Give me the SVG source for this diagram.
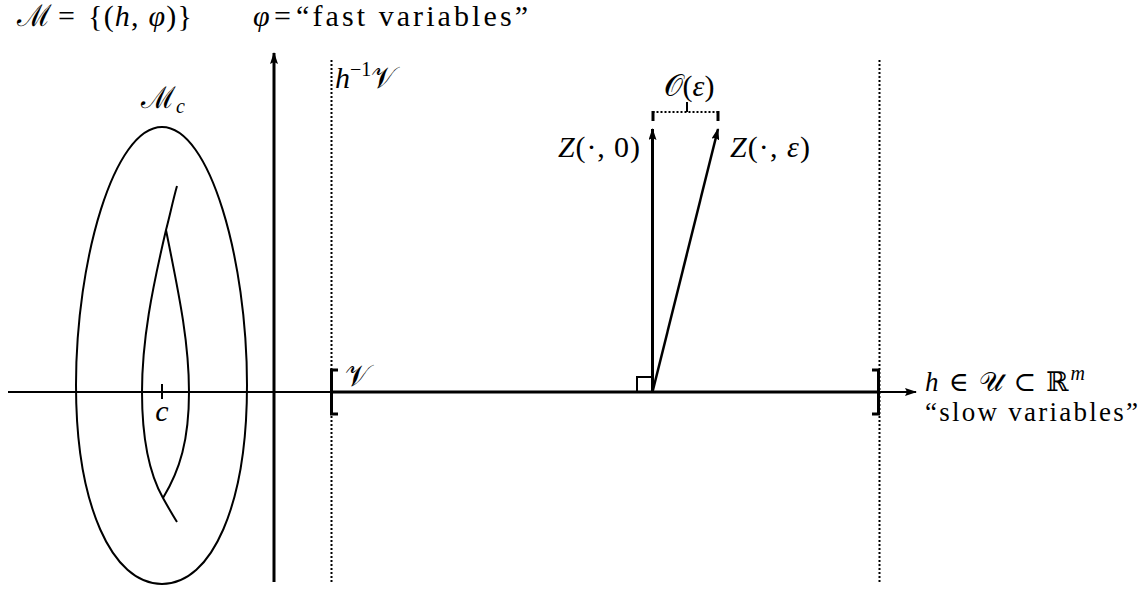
<svg xmlns="http://www.w3.org/2000/svg" width="1143" height="592" viewBox="0 0 1143 592">
<style>
.t{font-family:"Liberation Serif","DejaVu Serif",serif;font-size:30px;fill:#000}
.i{font-style:italic}
.s{font-size:20px}
.r{font-size:27px}
.ln{stroke:#000;fill:none}
</style>
<defs>
<marker id="ah" viewBox="0 0 12 8" refX="11" refY="4" markerWidth="12" markerHeight="8" markerUnits="userSpaceOnUse" orient="auto">
<path d="M0,0 L12,4 L0,8 L2,4 Z" fill="#000"/>
</marker>
</defs>
<rect width="1143" height="592" fill="#fff"/>
<g id="connectors">
<line id="h-axis" class="ln" x1="8" y1="392" x2="916" y2="392" stroke-width="2" marker-end="url(#ah)"/>
<line id="v-axis" class="ln" x1="274" y1="582" x2="274" y2="53" stroke-width="3" marker-end="url(#ah)"/>
<line class="ln" x1="331" y1="392" x2="879" y2="392" stroke-width="3"/>
<line class="ln" x1="331.5" y1="60" x2="331.5" y2="583" stroke-width="2" stroke-dasharray="2,2"/>
<line class="ln" x1="879.5" y1="60" x2="879.5" y2="583" stroke-width="2" stroke-dasharray="2,2"/>
<line id="z0" class="ln" x1="652.5" y1="392" x2="652.5" y2="129" stroke-width="3" marker-end="url(#ah)"/>
<line id="ze" class="ln" x1="652.5" y1="392" x2="718" y2="129" stroke-width="2.5" marker-end="url(#ah)"/>
</g>
<g id="mc">
<path class="ln" stroke-width="2" d="M162,127 C210,127 247,260 247,385 C247,505 212,584 162,584 C112,584 76,505 76,385 C76,260 114,127 162,127 Z"/>
<path class="ln" stroke-width="2" d="M177,186 C173,200 170,215 166,230 C152,290 142,340 142,392 C142,440 150,475 163,498 C168,507 172,514 177,522"/>
<path class="ln" stroke-width="2" d="M166,230 C178,290 189,340 189,392 C189,440 180,470 163,498"/>
<line class="ln" x1="162" y1="384" x2="162" y2="399" stroke-width="2"/>
<text class="t i" x="162" y="421" text-anchor="middle">c</text>
<text class="t" x="141" y="108">ℳ<tspan class="i s" dy="5">c</tspan></text>
</g>
<g id="interval">
<path class="ln" stroke-width="3" d="M338,370 L331.5,370 L331.5,414 L338,414"/>
<path class="ln" stroke-width="3" d="M872,370 L878.5,370 L878.5,414 L872,414"/>
<path class="ln" stroke-width="2" d="M637,392 L637,377 L652,377"/>
<text class="t" x="345" y="386">𝒱</text>
</g>
<g id="bracket">
<line class="ln" x1="652.5" y1="112" x2="718" y2="112" stroke-width="2" stroke-dasharray="2,2"/>
<line class="ln" x1="653" y1="111" x2="653" y2="121" stroke-width="3"/>
<line class="ln" x1="718" y1="111" x2="718" y2="121" stroke-width="3"/>
<line class="ln" x1="687" y1="102" x2="687" y2="112" stroke-width="2"/>
<text class="t" x="689" y="96" text-anchor="middle">𝒪(<tspan class="i">ε</tspan>)</text>
</g>
<g id="labels">
<text class="t" x="17" y="26">ℳ</text>
<text class="t" x="58" y="26">=</text>
<text class="t" x="88" y="26" textLength="104" lengthAdjust="spacing">{(<tspan class="i">h</tspan>, <tspan class="i">φ</tspan>)}</text>
<text class="t i" x="253" y="26">φ</text>
<text class="t" x="274" y="26">=</text>
<text class="t" x="296" y="26" font-size="31" textLength="232" lengthAdjust="spacing">“fast variables”</text>
<text class="t" x="335" y="88"><tspan class="i">h</tspan><tspan class="s" dy="-12">−1</tspan><tspan dy="12">𝒱</tspan></text>
<text class="t" x="558" y="157" textLength="82" lengthAdjust="spacing"><tspan class="i">Z</tspan>(·, 0)</text>
<text class="t" x="730" y="157" textLength="80" lengthAdjust="spacing"><tspan class="i">Z</tspan>(·, <tspan class="i">ε</tspan>)</text>
<text class="t r" x="925" y="391" textLength="160" lengthAdjust="spacing"><tspan class="i">h</tspan> ∈ 𝒰 ⊂ ℝ<tspan class="i s" dy="-11">m</tspan></text>
<text class="t r" x="925" y="421" textLength="213" lengthAdjust="spacing">“slow variables”</text>
</g>
</svg>
